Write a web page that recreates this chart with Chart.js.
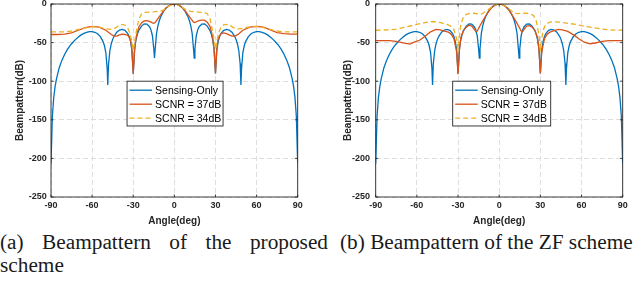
<!DOCTYPE html>
<html>
<head>
<meta charset="utf-8">
<script src="https://cdn.jsdelivr.net/npm/chart.js@4.4.1/dist/chart.umd.min.js"></script>
<style>
  html,body{margin:0;padding:0;background:#fff;}
  body{width:640px;height:282px;position:relative;overflow:hidden;}
  canvas{position:absolute;top:0;}
  #chartA{left:0;} #chartB{left:320px;}
  .cap{position:absolute;font-family:"Liberation Serif","Times New Roman",serif;font-size:21.3px;line-height:23px;color:#1a1a1a;}
  #capA{left:0;top:231px;width:328px;text-align:justify;}
  #capB{left:340px;top:231px;width:300px;white-space:nowrap;}
</style>
</head>
<body>
<canvas id="chartA" width="320" height="230"></canvas>
<canvas id="chartB" width="320" height="230"></canvas>
<div class="cap" id="capA">(a) Beampattern of the proposed scheme</div>
<div class="cap" id="capB">(b) Beampattern of the ZF scheme</div>
<script>
// ---------- data ----------
const seriesLabels = ['Sensing-Only', 'SCNR = 37dB', 'SCNR = 34dB'];
const xTitle = 'Angle(deg)';
const yTitle = 'Beampattern(dB)';
const xTickValues = [-90, -60, -30, 0, 30, 60, 90];
const yTickValues = [-250, -200, -150, -100, -50, 0];

// Sensing-only beampattern (same in both panels)
const sensingAngles = [-90,-89,-88,-87,-86,-84,-82,-80,-78,-76,-74,-72,-70,-68,-66,-64,-62,-60,-58,-56,-54,-52,-51,-50,-49,-48.59,-48,-47,-46,-45,-44,-42,-40,-38,-36,-34,-33,-32,-31,-30,-29,-28,-27,-26,-24,-22,-20,-18,-17,-16,-15,-14.48,-14,-13,-12,-11,-10,-8,-6,-4,-2,
  0,
  2,4,6,8,10,11,12,13,14,14.48,15,16,17,18,20,22,24,26,27,28,29,30,31,32,33,34,36,38,40,42,44,45,46,47,48,48.59,49,50,51,52,54,56,58,60,62,64,66,68,70,72,74,76,78,80,82,84,86,87,88,89,90];
const sensingOnly = [-207,-145,-121,-106.7,-96.9,-82.5,-72.7,-65.0,-58.7,-53.6,-49.5,-45.8,-42.7,-40.0,-38.1,-36.7,-35.9,-35.9,-36.6,-38.5,-42.2,-48.7,-54.1,-62.9,-84,-105,-77.2,-59.9,-51.4,-45.8,-41.8,-36.5,-33.7,-32.9,-34.2,-38.4,-42.2,-48.3,-59.6,-90,-58.5,-46.3,-39.3,-34.5,-28.6,-25.9,-26.0,-29.7,-33.8,-41.1,-58.3,-70,-58.6,-38.1,-28.3,-21.7,-16.8,-9.85,-5.24,-2.25,-0.55,
  0,
  -0.55,-2.25,-5.24,-9.85,-16.8,-21.7,-28.3,-38.1,-58.6,-70,-58.3,-41.1,-33.8,-29.7,-26.0,-25.9,-28.6,-34.5,-39.3,-46.3,-58.5,-90,-59.6,-48.3,-42.2,-38.4,-34.2,-32.9,-33.7,-36.5,-41.8,-45.8,-51.4,-59.9,-77.2,-105,-84,-62.9,-54.1,-48.7,-42.2,-38.5,-36.6,-35.9,-35.9,-36.7,-38.1,-40.0,-42.7,-45.8,-49.5,-53.6,-58.7,-65.0,-72.7,-82.5,-96.9,-106.7,-121,-145,-207];

// (a) proposed scheme
const propAngles37 = [-90,-85,-80,-75,-70,-65,-60,-55,-50,-46,-44,-42,-40,-38,-36,-34,-32,-31,-30,-29,-28,-26,-24,-22,-20,-18,-16,-15,-14,-12,-10,-8,-6,-4,-2,0,2,4,6,8,10,12,14,15,16,18,20,22,24,26,28,29,30,31,32,34,36,38,40,42,44,46,50,55,60,65,70,75,80,85,90];
const propSCNR37 = [-39.5,-39.5,-39,-37.5,-34,-30.5,-29,-30,-34,-39.5,-41.5,-41.5,-40,-39,-39.5,-40.5,-46,-58,-91,-60,-44,-30,-24.5,-22,-21.5,-22.5,-24.5,-25,-24,-19,-14,-9,-5,-2.2,-0.5,0,-0.5,-2.2,-5,-9,-14,-19,-23.5,-24,-23,-21.5,-20.8,-21,-23.5,-29,-43,-60,-90,-57,-44,-38.5,-37.5,-38.5,-40,-41.5,-41.5,-40,-34,-30,-29,-30,-33.5,-37,-38.5,-39,-39];
const propAngles34 = [-90,-80,-75,-70,-65,-60,-55,-50,-46,-43,-40,-38,-36,-34,-32,-30,-28,-26,-24,-22,-18,-14,-10,-8,-6,-4,-2,0,2,4,6,8,10,12,14,18,22,24,26,28,30,32,34,36,38,40,43,46,50,55,60,65,70,75,80,90];
const propSCNR34 = [-36,-36,-35,-33,-31,-29.5,-30,-32,-33,-31,-27.5,-26.5,-27.5,-31,-40,-60,-38,-20,-13,-11,-10.5,-10,-9,-8,-5.5,-2.5,-0.6,0,-0.6,-2.3,-4.5,-7,-8.5,-9.5,-10,-10.5,-11,-12.5,-19,-36,-58,-40,-30,-27,-26.5,-27,-30.5,-32.5,-31.5,-29.5,-29,-30.5,-33,-35,-36,-36];

// (b) ZF scheme
const zfAngles37 = [-90,-85,-80,-75,-70,-65,-62,-58,-55,-50,-46,-43,-40,-37,-35,-33,-31,-30,-29,-28,-26,-24,-22,-20,-18,-17,-16,-15,-13,-11,-9,-7,-5,-3,-1,0,1,3,5,7,9,11,13,15,16,17,18,20,22,24,26,28,29,30,31,33,35,37,40,43,46,50,55,58,62,66,70,75,80,85,90];
const zfSCNR37 = [-47.5,-47.5,-47.5,-48.5,-50.5,-52,-49.5,-47,-43,-36,-33,-33.5,-35,-36.5,-39,-45,-62,-91,-60,-44,-34,-30,-27.5,-28.5,-33,-36,-35,-31.5,-25,-19,-13,-8,-4,-1.5,-0.15,0,-0.15,-1.5,-4,-8,-13,-19,-25,-31.5,-35,-36,-33,-28.5,-28,-30,-34,-44,-60,-90,-62,-45,-39,-36.5,-34.5,-33,-33.5,-35.5,-41,-45,-49.5,-51.5,-50.5,-48.5,-47.5,-47.5,-47.5];
const zfAngles34 = [-90,-80,-75,-70,-65,-60,-55,-50,-46,-42,-38,-35,-33,-31,-30,-29,-28,-26,-24,-21,-18,-15,-13,-11,-9,-7,-5,-3,-1,0,1,3,5,7,9,11,13,16,20,23,25,27,29,30,31,32,34,37,40,44,48,52,56,60,65,70,75,80,90];
const zfSCNR34 = [-34,-33.5,-32.5,-30.5,-28.5,-26.5,-24.5,-23,-23,-24.5,-26.5,-29,-33,-45,-58,-42,-27,-17,-13.5,-12,-12,-13,-13,-11,-8.5,-6,-3.5,-1.5,-0.2,0,-0.2,-1.5,-3.5,-6,-9,-11.5,-12.5,-12,-12,-13,-15,-22,-40,-58,-45,-34,-26,-23.5,-23,-23.5,-24.5,-25.5,-26.5,-28,-29.5,-31,-32.5,-33.5,-34];

// ---------- drawing ----------
const boxLegend = {
  id: 'boxLegend',
  afterDraw(chart, args, o) {
    const {ctx, chartArea: a, scales: {x, y}} = chart;
    ctx.save();
    ctx.setLineDash([]);
    ctx.strokeStyle = '#262626';
    ctx.lineWidth = 0.9;
    ctx.beginPath();
    x.ticks.forEach(t => {
      const p = x.getPixelForValue(t.value);
      ctx.moveTo(p, a.bottom); ctx.lineTo(p, a.bottom - 2.5);
      ctx.moveTo(p, a.top); ctx.lineTo(p, a.top + 2.5);
    });
    y.ticks.forEach(t => {
      const p = y.getPixelForValue(t.value);
      ctx.moveTo(a.left, p); ctx.lineTo(a.left + 2.5, p);
      ctx.moveTo(a.right, p); ctx.lineTo(a.right - 2.5, p);
    });
    ctx.stroke();
    ctx.strokeRect(a.left, a.top, a.right - a.left, a.bottom - a.top);

    // legend box
    const lx = x.getPixelForValue(0) + o.dx;
    const ly = y.getPixelForValue(o.topValue);
    const lh = y.getPixelForValue(o.bottomValue) - ly;
    ctx.fillStyle = '#fff';
    ctx.fillRect(lx, ly, o.w, lh);
    ctx.strokeStyle = '#262626';
    ctx.lineWidth = 0.9;
    ctx.strokeRect(lx, ly, o.w, lh);
    ctx.font = '10.5px "Liberation Sans", Arial, sans-serif';
    ctx.textBaseline = 'middle';
    ctx.textAlign = 'left';
    chart.data.datasets.forEach((ds, i) => {
      const yy = ly + 9 + i * 14;
      ctx.strokeStyle = ds.borderColor;
      ctx.lineWidth = ds.borderWidth;
      ctx.setLineDash(ds.borderDash || []);
      ctx.beginPath(); ctx.moveTo(lx + 2.5, yy); ctx.lineTo(lx + 25, yy); ctx.stroke();
      ctx.setLineDash([]);
      ctx.fillStyle = '#000';
      ctx.fillText(ds.label, lx + 28, yy + 0.5);
    });
    ctx.restore();
  }
};

function pts(a, v) { return a.map((xv, i) => ({x: xv, y: v[i]})); }

function makeChart(id, ang37, val37, ang34, val34, g) {
  const tickFont = {family: '"Liberation Sans", Arial, sans-serif', size: 9, weight: 'bold'};
  const titleFont = {family: '"Liberation Sans", Arial, sans-serif', size: 10, weight: 'bold'};
  return new Chart(document.getElementById(id), {
    type: 'line',
    data: {datasets: [
      {label: seriesLabels[0], data: pts(sensingAngles, sensingOnly), borderColor: '#0072BD', borderWidth: 1.3, order: 3},
      {label: seriesLabels[1], data: pts(ang37, val37), borderColor: '#D95319', borderWidth: 1.3, order: 2},
      {label: seriesLabels[2], data: pts(ang34, val34), borderColor: '#EDB120', borderWidth: 1.3, borderDash: [5, 3], order: 1}
    ]},
    options: {
      responsive: false, animation: false, devicePixelRatio: 1,
      layout: {padding: {left: 0, right: g.padR, top: 4, bottom: 0}},
      elements: {point: {radius: 0}, line: {tension: 0, fill: false}},
      plugins: {legend: {display: false}, tooltip: {enabled: false},
        boxLegend: {dx: g.legDx, w: g.legW, topValue: -100, bottomValue: -158}},
      scales: {
        x: {type: 'linear', min: -90, max: 90,
          afterBuildTicks: s => { s.ticks = xTickValues.map(v => ({value: v})); },
          afterFit: s => { s.height = 33; s.paddingLeft = 0; s.paddingRight = 0; },
          grid: {color: '#d6d6d6', lineWidth: 0.8, drawTicks: false},
          border: {display: false, dash: [5, 3]},
          ticks: {color: '#262626', font: tickFont, padding: 3.5, maxRotation: 0, autoSkip: false},
          title: {display: true, text: xTitle, color: '#262626', font: titleFont, padding: {top: 0, bottom: 3}}
        },
        y: {type: 'linear', min: -250, max: 0,
          afterBuildTicks: s => { s.ticks = yTickValues.map(v => ({value: v})); },
          afterFit: s => { s.width = g.yw; s.paddingTop = 0; s.paddingBottom = 0; },
          grid: {color: '#d6d6d6', lineWidth: 0.8, drawTicks: false},
          border: {display: false, dash: [5, 3]},
          ticks: {color: '#262626', font: tickFont, padding: g.tickPad, autoSkip: false},
          title: {display: true, text: yTitle, color: '#262626', font: titleFont, padding: {top: g.titlePad, bottom: 0}}
        }
      }
    },
    plugins: [boxLegend]
  });
}

makeChart('chartA', propAngles37, propSCNR37, propAngles34, propSCNR34,
  {yw: 51, padR: 22.3, tickPad: 4.3, titlePad: 14.7, legDx: -47.3, legW: 96});
makeChart('chartB', zfAngles37, zfSCNR37, zfAngles34, zfSCNR34,
  {yw: 55.7, padR: 17.3, tickPad: 5.7, titlePad: 22, legDx: -46.5, legW: 98});
</script>
</body>
</html>
